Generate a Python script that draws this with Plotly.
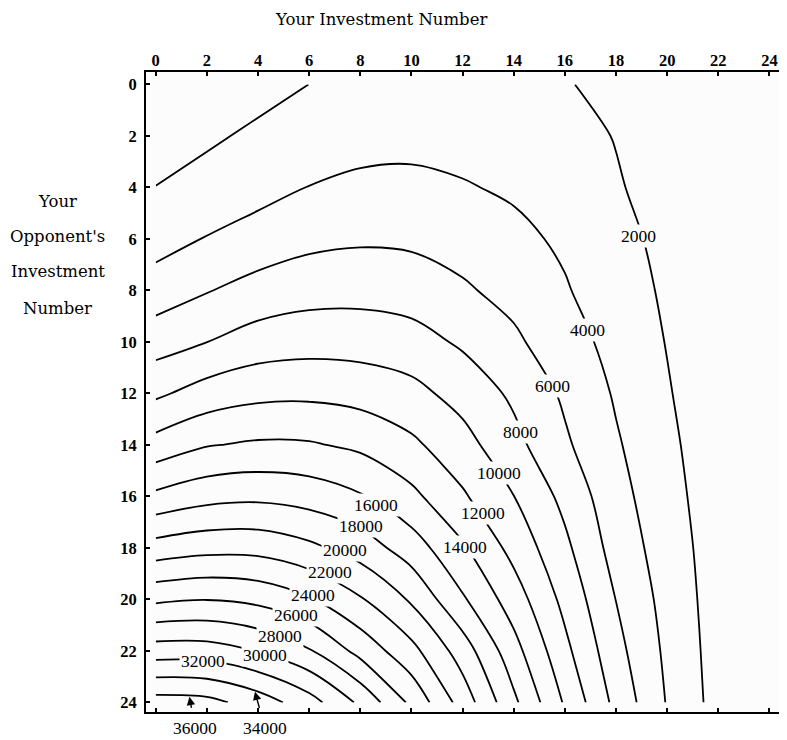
import plotly.graph_objects as go

# ---------------- data ----------------
your_investment = [0, 2, 4, 6, 8, 10, 12, 14, 16, 18, 20, 22, 24]
opponent_investment = [0, 2, 4, 6, 8, 10, 12, 14, 16, 18, 20, 22, 24]

# value at each grid node, one list per opponent investment (row), columns follow your_investment
value_y00 = [1000, 1200, 1317, 2010, 2550, 2830, 2855, 2626, 2145, 1410, 900, 300, 0]
value_y02 = [1290, 1680, 2376, 2800, 3300, 3450, 3350, 3063, 2580, 1930, 1200, 350, 0]
value_y04 = [2025, 2720, 3280, 4050, 4420, 4450, 4138, 3744, 3200, 2160, 1300, 400, 0]
value_y06 = [3200, 4100, 4880, 5480, 5740, 5650, 5250, 4455, 3697, 2550, 1520, 450, 0]
value_y08 = [4950, 5900, 6700, 7240, 7340, 7050, 6250, 5400, 4156, 2960, 1700, 500, 50]
value_y10 = [7100, 7990, 8920, 9230, 9170, 8800, 7710, 6350, 4850, 3360, 1920, 560, 100]
value_y12 = [9640, 10860, 11480, 11580, 11270, 10600, 9280, 7640, 5670, 3790, 2160, 636, 150]
value_y14 = [12750, 13895, 14270, 14200, 13600, 12400, 10740, 8600, 6310, 4220, 2460, 724, 200]
value_y16 = [16440, 17330, 17570, 17160, 16200, 14500, 12260, 10030, 7450, 4673, 2750, 851, 250]
value_y18 = [20840, 21370, 21340, 20450, 19100, 17000, 14280, 11360, 8440, 5200, 3030, 1010, 300]
value_y20 = [25600, 25950, 25490, 24200, 22200, 19740, 16260, 13010, 9440, 5970, 3300, 1097, 350]
value_y22 = [30990, 30920, 29900, 28200, 25365, 22620, 19050, 14740, 10520, 6640, 3590, 1162, 400]
value_y24 = [36870, 36630, 35100, 32850, 29600, 25560, 21160, 16430, 11770, 7440, 3870, 1240, 400]

value_grid = [value_y00, value_y02, value_y04, value_y06, value_y08, value_y10, value_y12,
              value_y14, value_y16, value_y18, value_y20, value_y22, value_y24]

level_start = 2000
level_end = 36000
level_step = 2000

tick_values = [0, 2, 4, 6, 8, 10, 12, 14, 16, 18, 20, 22, 24]
tick_labels = ["0", "2", "4", "6", "8", "10", "12", "14", "16", "18", "20", "22", "24"]

# inline contour labels (text, and where they sit on their line)
label_text = ["2000", "4000", "6000", "8000", "10000", "12000", "14000", "16000", "18000",
              "20000", "22000", "24000", "26000", "28000", "30000", "32000"]
label_x = [18.89, 16.90, 15.51, 14.28, 13.43, 12.78, 12.10, 8.62, 8.04,
           7.39, 6.80, 6.15, 5.50, 4.85, 4.27, 1.86]
label_y = [5.87, 9.53, 11.71, 13.48, 15.10, 16.66, 17.95, 16.33, 17.13,
           18.08, 18.92, 19.83, 20.60, 21.40, 22.16, 22.39]

# labels under the chart with arrows pointing to their line
arrow_text = ["36000", "34000"]
arrow_text_x = [1.54, 4.27]
arrow_text_y = [25.0, 25.0]
arrow_tip_x = [1.32, 3.88]
arrow_tip_y = [23.78, 23.58]

# ---------------- figure ----------------
BG = "#fcfcfc"
SERIF = "Liberation Serif"

fig = go.Figure()
fig.add_trace(go.Contour(
    x=your_investment, y=opponent_investment, z=value_grid,
    contours=dict(start=level_start, end=level_end, size=level_step,
                  coloring="lines", showlabels=False),
    colorscale=[[0, "black"], [1, "black"]],
    line=dict(width=1.8, smoothing=1.0),
    showscale=False, hoverinfo="skip",
))

for t, x, y in zip(label_text, label_x, label_y):
    fig.add_annotation(x=x, y=y, xref="x", yref="y", text=t, showarrow=False,
                       font=dict(family=SERIF, size=17.5, color="black"),
                       bgcolor=BG, borderpad=1)

for t, tx, ty, hx, hy in zip(arrow_text, arrow_text_x, arrow_text_y, arrow_tip_x, arrow_tip_y):
    fig.add_annotation(x=hx, y=hy, xref="x", yref="y", ax=tx, ay=ty, axref="x", ayref="y",
                       text=t, showarrow=True, arrowhead=2, arrowsize=1.2, arrowwidth=1.4,
                       arrowcolor="black", startstandoff=9,
                       font=dict(family=SERIF, size=17.5, color="black"))

# axis titles
fig.add_annotation(x=0.3693, y=1.08125, xref="paper", yref="paper", text="Your Investment Number",
                   showarrow=False, xanchor="center", yanchor="middle",
                   font=dict(family="DejaVu Serif", size=16.5, color="black"))
ytitle_lines = ["Your", "Opponent's", "Investment", "Number"]
ytitle_pos = [0.7973, 0.7427, 0.6880, 0.6308]
for t, yp in zip(ytitle_lines, ytitle_pos):
    fig.add_annotation(x=-0.1385, y=yp, xref="paper", yref="paper", text=t, showarrow=False,
                       xanchor="center", yanchor="middle",
                       font=dict(family="DejaVu Serif", size=16.5, color="black"))

axis_common = dict(
    tickmode="array", tickvals=tick_values, ticktext=tick_labels,
    ticks="inside", ticklen=4, tickwidth=1.5, tickcolor="black",
    showline=True, linewidth=2, linecolor="black", mirror="ticks",
    showgrid=False, zeroline=False,
    tickfont=dict(family=SERIF, size=16.5, color="black", weight="bold"),
)
fig.update_xaxes(range=[-0.38, 24.53], side="top", ticklabelstandoff=-3, **axis_common)
fig.update_yaxes(range=[24.37, -0.485], ticklabelstandoff=4, **axis_common)

# the page body adds an 8px offset, so the figure is sized to land where the reference sits
fig.update_layout(
    width=779, height=732,
    margin=dict(l=138, r=2, t=64, b=28),
    paper_bgcolor="white", plot_bgcolor=BG,
    showlegend=False,
)

fig.write_html("out.html")
